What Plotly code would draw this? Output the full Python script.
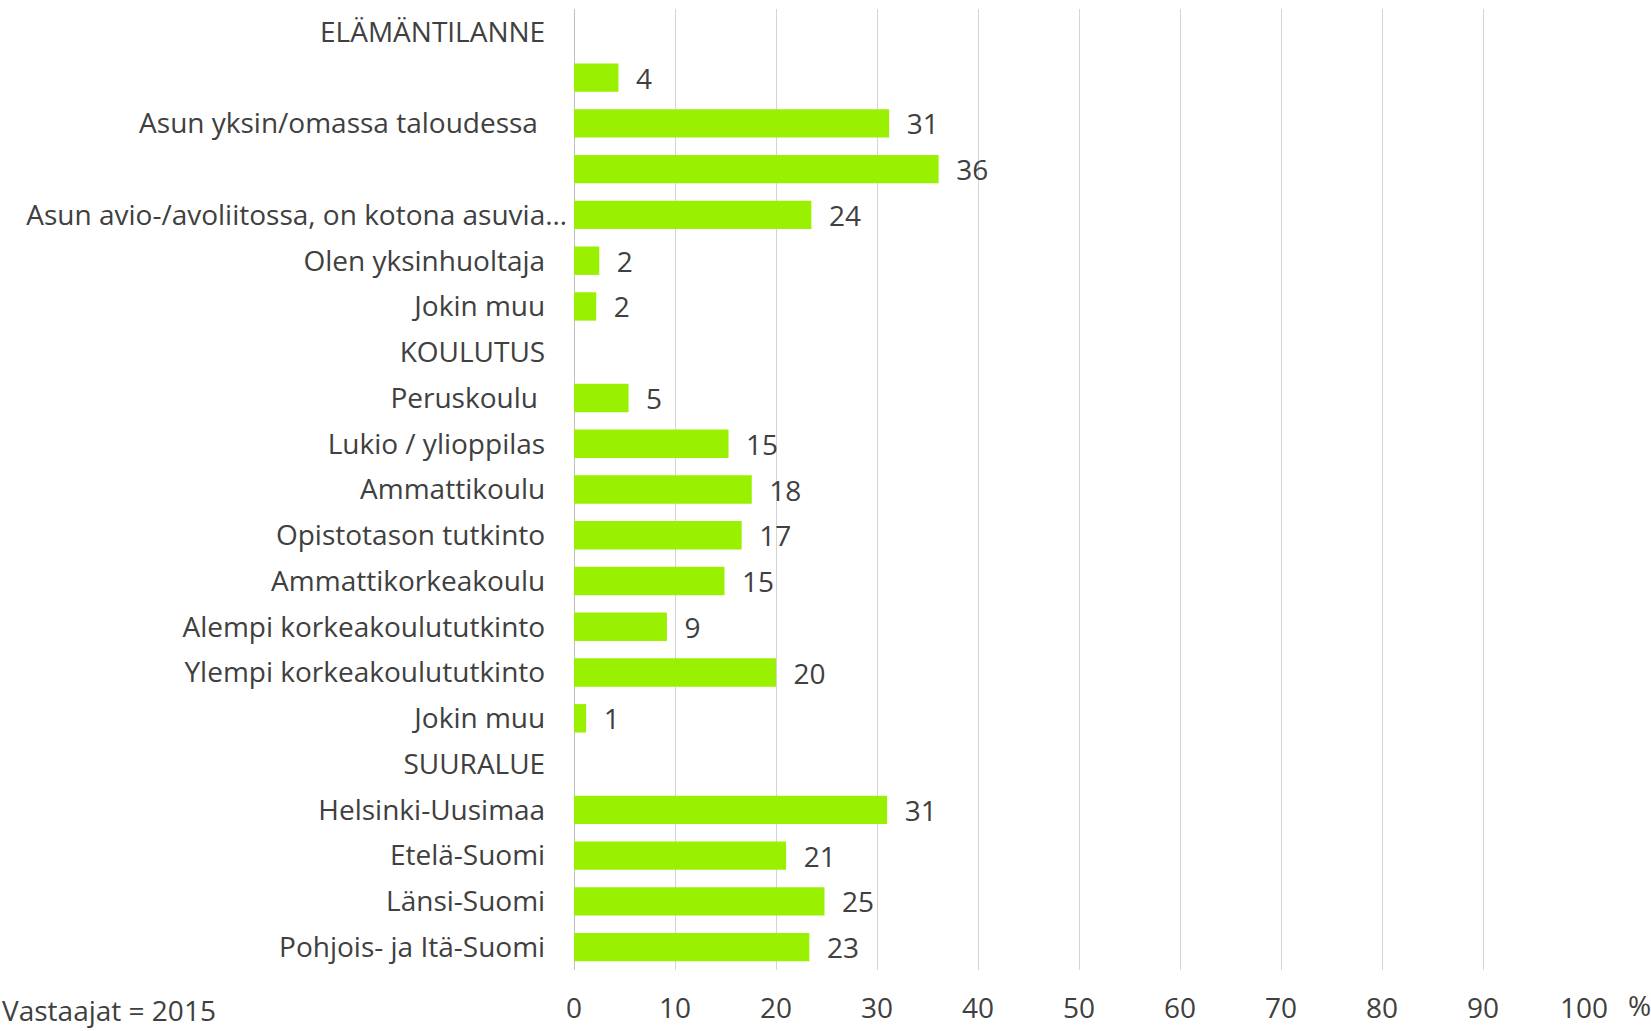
import plotly.graph_objects as go

labels = [
    "ELÄMÄNTILANNE",
    "",
    "Asun yksin/omassa taloudessa\u00a0",
    "",
    "Asun avio-/avoliitossa, on kotona asuvia…",
    "Olen yksinhuoltaja",
    "Jokin muu",
    "KOULUTUS",
    "Peruskoulu\u00a0",
    "Lukio / ylioppilas",
    "Ammattikoulu",
    "Opistotason tutkinto",
    "Ammattikorkeakoulu",
    "Alempi korkeakoulututkinto",
    "Ylempi korkeakoulututkinto",
    "Jokin muu",
    "SUURALUE",
    "Helsinki-Uusimaa",
    "Etelä-Suomi",
    "Länsi-Suomi",
    "Pohjois- ja Itä-Suomi",
]
values = [None, 4.4, 31.2, 36.1, 23.5, 2.5, 2.2, None, 5.4, 15.3, 17.6, 16.6,
          14.9, 9.2, 20.0, 1.2, None, 31.0, 21.0, 24.8, 23.3]
value_labels = ["", "4", "31", "36", "24", "2", "2", "", "5", "15", "18", "17",
                "15", "9", "20", "1", "", "31", "21", "25", "23"]
x_ticks = [0, 10, 20, 30, 40, 50, 60, 70, 80, 90, 100]
respondents = "Vastaajat = 2015"

FONT = "Open Sans"
FS = 28
TXT = "#404040"
NB = "\u00a0"

positions = list(range(len(labels)))
# tick text: pad labels so they end left of the axis (truncated label sits closer)
tick_text = [lab if lab.endswith("…") else lab + NB * 3 for lab in labels]
bar_text = [(NB * 2 + t) if t else "" for t in value_labels]

fig = go.Figure()
fig.add_trace(go.Bar(
    x=values,
    y=positions,
    orientation="h",
    width=0.62,
    marker=dict(color="rgb(153,240,0)", line=dict(width=0)),
    text=bar_text,
    textposition="outside",
    constraintext="none",
    textfont=dict(family=FONT, size=FS, color=TXT),
    cliponaxis=False,
    hoverinfo="skip",
))

fig.update_layout(
    width=1651,
    height=1031,
    margin=dict(l=574, r=67, t=9, b=61, autoexpand=False),
    paper_bgcolor="white",
    plot_bgcolor="white",
    showlegend=False,
    font=dict(family=FONT, size=FS, color=TXT),
    xaxis=dict(
        range=[0, 100],
        tickvals=x_ticks,
        ticktext=[str(v) for v in x_ticks],
        showgrid=True,
        gridcolor="#D4D4D4",
        gridwidth=1,
        zeroline=True,
        zerolinecolor="#BFBFBF",
        zerolinewidth=1,
        showline=False,
        ticks="",
        automargin=False,
        ticklabelstandoff=19,
        tickfont=dict(family=FONT, size=FS, color=TXT),
    ),
    yaxis=dict(
        range=[len(labels) - 0.5, -0.5],
        tickvals=positions,
        ticktext=tick_text,
        showgrid=False,
        zeroline=False,
        showline=False,
        ticks="",
        automargin=False,
        ticklabelstandoff=6,
        tickfont=dict(family=FONT, size=FS, color=TXT),
    ),
    annotations=[
        dict(text="%", xref="paper", yref="paper", x=1, y=0, xshift=55, yshift=-35,
             xanchor="center", yanchor="middle", showarrow=False,
             font=dict(family=FONT, size=FS, color=TXT)),
        dict(text=respondents, xref="paper", yref="paper", x=-574 / 1010, y=0,
             yshift=-40, xanchor="left", yanchor="middle", showarrow=False,
             font=dict(family=FONT, size=FS, color=TXT)),
    ],
)

fig.write_html("out.html", config={"displayModeBar": False},
               post_script="document.body.style.margin='0';")
